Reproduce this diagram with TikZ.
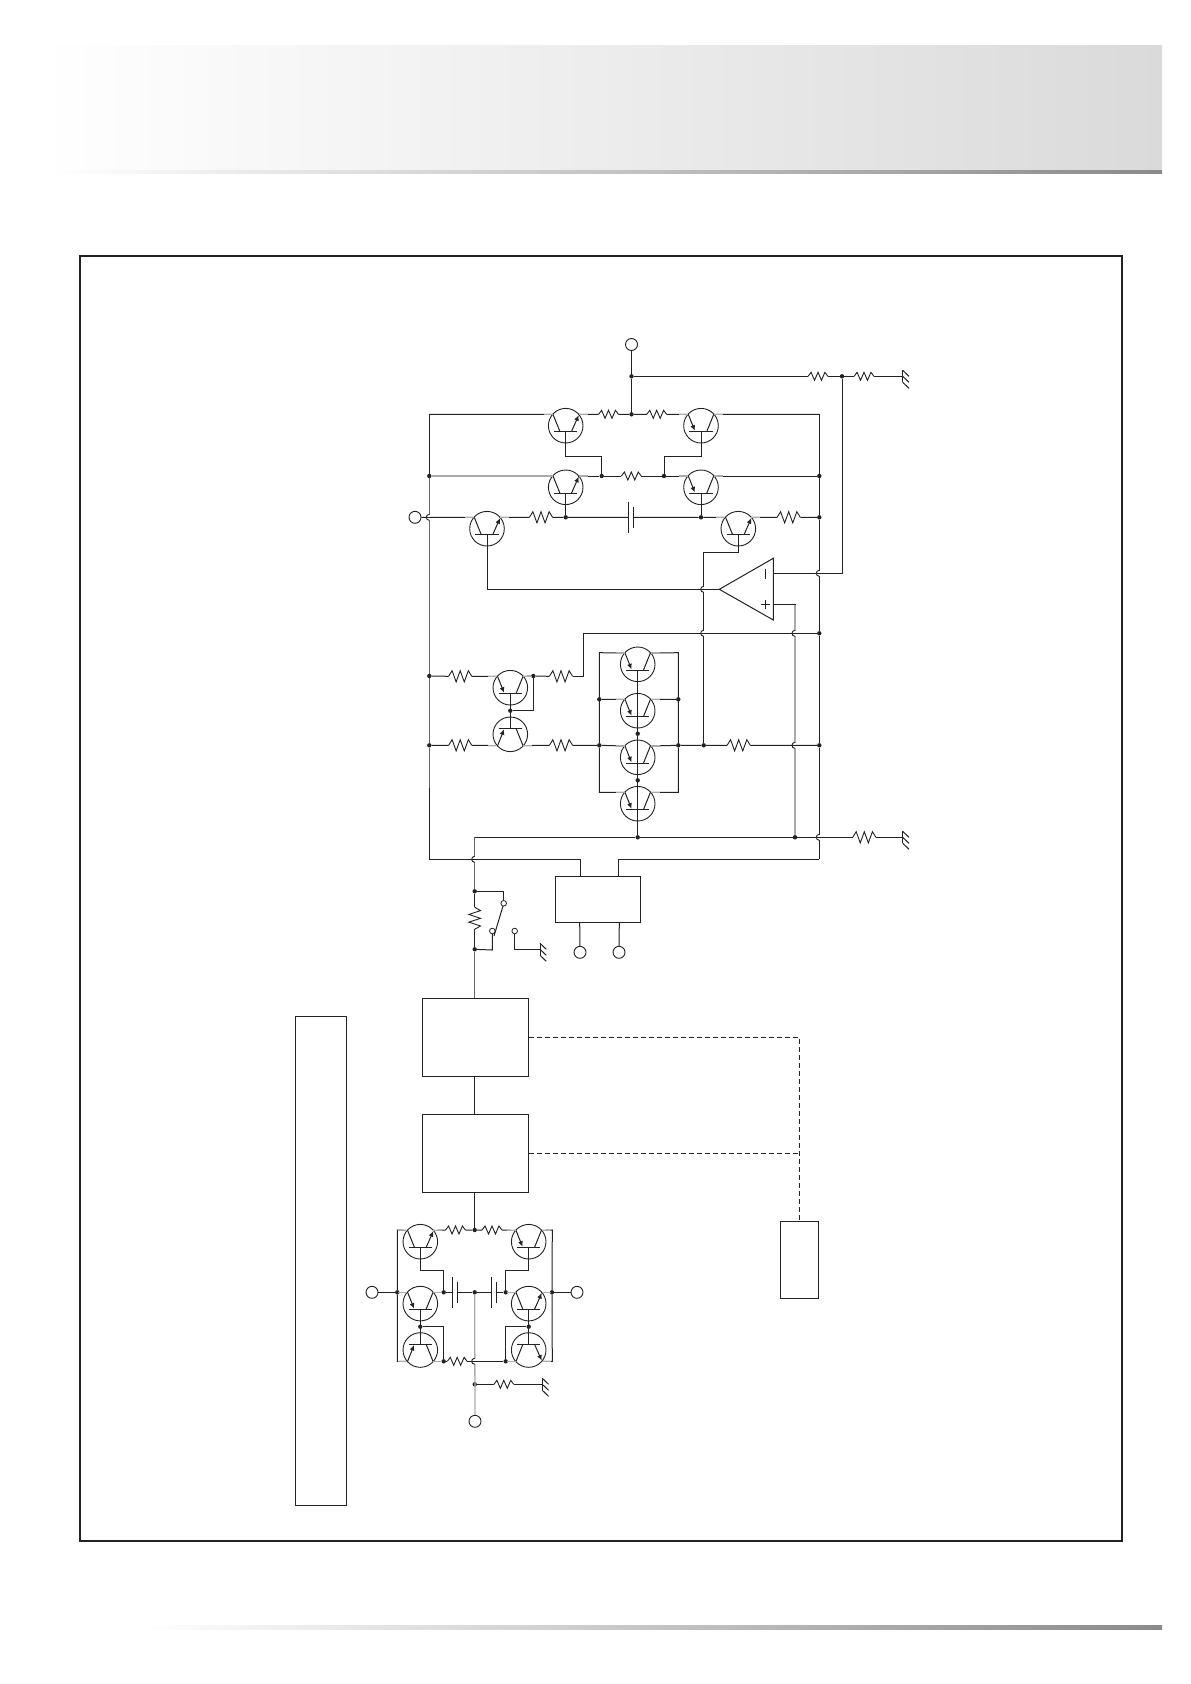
\documentclass[tikz,border=0pt]{standalone}
\usetikzlibrary{arrows.meta}
\pgfdeclarelayer{fg}
\pgfsetlayers{main,fg}
\definecolor{ink}{HTML}{222222}
\definecolor{lgray}{HTML}{ABABAB}
\definecolor{mgray}{HTML}{666666}
\definecolor{hdr}{HTML}{DBDADA}
\definecolor{strip}{HTML}{8A8A8A}
\newcommand\zzH[2]{-- ++({.15*#1},{-#2}) -- ++({.175*#1},{2*#2}) -- ++({.175*#1},{-2*#2}) -- ++({.175*#1},{2*#2}) -- ++({.175*#1},{-2*#2}) -- ++({.15*#1},{#2})}
\newcommand\zzV[2]{-- ++({#2},{.15*#1}) -- ++({-2*#2},{.175*#1}) -- ++({2*#2},{.175*#1}) -- ++({-2*#2},{.175*#1}) -- ++({2*#2},{.175*#1}) -- ++({-#2},{.15*#1})}
\newcommand\trstubs{\begin{pgfonlayer}{fg}\draw[line width=1.1pt,draw=lgray] (-22,-11.3) -- (-13,-11.3) (13,-11.3) -- (22,-11.3);\end{pgfonlayer}}
\tikzset{
  wire/.style={line width=1pt,draw=ink,line join=miter},
  gwire/.style={line width=1.3pt,draw=lgray},
  mwire/.style={line width=1pt,draw=mgray},
  dwire/.style={line width=1pt,draw=ink,dash pattern=on 5pt off 3pt},
  dot/.style={circle,fill=ink,inner sep=0pt,minimum size=4.4pt},
  term/.style={circle,draw=ink,line width=0.9pt,fill=white,inner sep=0pt,minimum size=12pt},
  swt/.style={circle,draw=ink,line width=0.8pt,fill=white,inner sep=0pt,minimum size=5.6pt},
  blockbox/.style={rectangle,draw=ink,line width=1pt,inner sep=0pt},
  trA/.pic={
    \draw[line width=0.9pt,draw=ink] (0,0) circle (17.3);
    \draw[wire] (-11.7,6) -- (11.7,6);
    \draw[wire] (0,6) -- (0,17.3);
    \coordinate (-l) at (-12.7,-11.3);
    \coordinate (-r) at (12.7,-11.3);
    \coordinate (-b) at (0,17.3);
    \coordinate (-m) at (0,6);
    \draw[wire] (-5.7,6) -- (-12.7,-11.3);
    \draw[wire,-{Latex[length=5.5pt,width=5pt]}] (5.7,6) -- (13,-10.5);
    \trstubs
  },
  trB/.pic={
    \draw[line width=0.9pt,draw=ink] (0,0) circle (17.3);
    \draw[wire] (-11.7,6) -- (11.7,6);
    \draw[wire] (0,6) -- (0,17.3);
    \coordinate (-l) at (-12.7,-11.3);
    \coordinate (-r) at (12.7,-11.3);
    \coordinate (-b) at (0,17.3);
    \coordinate (-m) at (0,6);
    \draw[wire,-{Latex[length=5.5pt,width=5pt]}] (-12.7,-11.3) -- (-6.2,5);
    \draw[wire] (5.7,6) -- (12.7,-11.3);
    \trstubs
  },
  resS/.pic={
    \coordinate (-a) at (-9.9,0);
    \coordinate (-b) at (9.9,0);
    \draw[line width=0.9pt,draw=ink] (-9.9,0) \zzH{19.8}{4};
  },
  resL/.pic={
    \coordinate (-a) at (-11.6,0);
    \coordinate (-b) at (11.6,0);
    \draw[line width=0.9pt,draw=ink] (-11.6,0) \zzH{23.2}{5.6};
  },
  resV/.pic={
    \coordinate (-a) at (0,-11);
    \coordinate (-b) at (0,11);
    \draw[line width=0.9pt,draw=ink] (0,-11) \zzV{22}{5.8};
  },
  gnd/.pic={
    \coordinate (-c) at (0,0);
    \draw[wire] (0,-6) -- (0,6);
    \draw[wire] (0,-6) -- (6.3,0) (0,0) -- (6.3,6) (0,6) -- (6.3,12);
  },
  hop/.pic={
    \draw[white,line width=2pt] (0,-2.8) -- (0,2.8);
    \draw[line width=0.9pt,draw=ink] (0,-3) .. controls (-4,-3) and (-4,3) .. (0,3);
    \draw[wire] (-4.5,0) -- (4.5,0);
  },
  cap/.pic={
    \coordinate (-a) at (-2.5,0);
    \coordinate (-b) at (2.5,0);
    \draw[wire] (-2.5,-15.8) -- (-2.5,15.8);
    \draw[wire] (2.5,-10.8) -- (2.5,10.8);
  }
}
\begin{document}
\begin{tikzpicture}[x=1pt,y=-1pt]
\useasboundingbox (0,0) rectangle (1191,1684);
\fill[white] (0,0) rectangle (1191,1684);
% page decoration
\shade[left color=white,right color=hdr,draw=none] (40,45) rectangle (1162,170.5);
\shade[left color=white,right color=strip,draw=none] (50,170) rectangle (1162,173);
\shade[left color=white,right color=strip,draw=none] (144,1625) rectangle (1162,1629);
\draw[line width=2pt,draw=ink] (80,255.7) rectangle (1122.3,1540.7);

% ---------- nodes and junctions ----------
\node[term] (tTop) at (631.5,344.5) {};
\node[term] (tIn) at (415,517.3) {};
\node[dot] (nA) at (631.5,376.3) {};
\node[dot] (nB) at (631.5,414.3) {};
\node[dot] (nC) at (842,376.3) {};
\coordinate (cTL) at (429.3,414.3);
\coordinate (cTR) at (819.3,414.3);
\node[dot] (n2L) at (429.3,476) {};
\node[dot] (n2R) at (819.3,476) {};
\node[dot] (n2a) at (601.7,476) {};
\node[dot] (n2b) at (664,476) {};
\node[dot] (n3a) at (565.7,517.3) {};
\node[dot] (n3b) at (701,517.3) {};
\node[dot] (n3R) at (819.3,517.3) {};
\node[dot] (n4R) at (819.3,633.3) {};
\node[dot] (n5L) at (429.3,676) {};
\node[dot] (n6L) at (429.3,745.3) {};
\node[dot] (n5a) at (533.3,676) {};
\node[dot] (n5b) at (510.3,710.7) {};
\node[dot] (n6a) at (599.3,745.3) {};
\node[dot] (n6b) at (678.3,745.3) {};
\node[dot] (n6c) at (703.7,745.3) {};
\node[dot] (n6R) at (819.3,745.3) {};
\node[dot] (nc1) at (599.3,699.3) {};
\node[dot] (nc2) at (678.3,699.3) {};
\node[dot] (nc3) at (637.7,733.7) {};
\node[dot] (nc4) at (637.7,780.3) {};
\node[dot] (nBt) at (637.7,837.3) {};
\node[dot] (nBr) at (795,837.3) {};
\node[dot] (nS1) at (474.7,891.3) {};
\node[dot] (nS2) at (474.7,949.3) {};

% transistors
\pic (Q1) at (565.7,425.7) {trA};
\pic (Q2) at (701,425.7) {trB};
\pic (Q3) at (565.7,487.3) {trA};
\pic (Q4) at (701,487.3) {trB};
\pic (Q5) at (487,528.7) {trA};
\pic (Q6) at (738.3,528.7) {trA};
\pic (Q7) at (510.3,687.7) {trB};
\pic[yscale=-1] (Q8) at (510.3,734.3) {trB};
\pic (Q9) at (637.7,664.3) {trB};
\pic (Q10) at (637.7,710.7) {trB};
\pic (Q11) at (637.7,757.3) {trB};
\pic (Q12) at (637.7,803.7) {trB};

% resistors, capacitor, grounds
\pic (R1) at (818,376.3) {resS};
\pic (R2) at (864,376.3) {resS};
\pic (R3) at (608.5,414.3) {resS};
\pic (R4) at (656.7,414.3) {resS};
\pic (R5) at (631.3,476) {resS};
\pic (R6) at (541,517.3) {resL};
\pic (R7) at (788.7,517.3) {resL};
\pic (R8) at (460.2,676.3) {resL};
\pic (R9) at (561,676.3) {resL};
\pic (R10) at (460.2,745.3) {resL};
\pic (R11) at (561,745.3) {resL};
\pic (R12) at (738.7,745.3) {resL};
\pic (R13) at (864.3,837.3) {resL};
\pic (R14) at (474.7,918.3) {resV};
\pic (C1) at (631.2,517.3) {cap};
\pic (G1) at (902.7,376.3) {gnd};
\pic (G2) at (902.7,837.3) {gnd};
\pic (G3) at (540,949.3) {gnd};

% op amp
\coordinate (oTip) at (719.3,589.3);
\coordinate (oIn) at (773.3,573.3);
\coordinate (oIp) at (773.3,604.7);
\draw[line width=1pt,draw=ink,line join=miter] (oTip) -- (773.3,558.3) -- (773.3,620) -- cycle;
\draw[wire] (765.3,569) -- (765.3,578.5);
\draw[wire] (761,604.7) -- (769.6,604.7) (765.3,600.4) -- (765.3,609);

% block 1
\node[blockbox,minimum width=85.4pt,minimum height=46pt] (bLogic) at (598,899.3) {};
\node[term] (tA) at (580,952.3) {};
\node[term] (tB) at (619,952.3) {};
\node[swt] (s1) at (503.7,903.3) {};
\node[swt] (s2) at (492.3,931) {};
\node[swt] (s3) at (514.7,931) {};

% ---------- upper wiring ----------
\draw[wire] (tTop) -- (nA);
\draw[wire] (nA) -- (nB);
\draw[wire] (nA) -- (R1-a) (R1-b) -- (nC) (nC) -- (R2-a) (R2-b) -- (G1-c);
\draw[wire] (nC) |- (oIn);
\draw[wire] (cTL) -- (Q1-l) (Q1-r) -- (R3-a) (R3-b) -- (nB) (nB) -- (R4-a) (R4-b) -- (Q2-l) (Q2-r) -- (cTR);
\draw[wire] (cTL) -- (n2L);
\draw[wire] (cTR) -- (n2R) -- (n3R) -- (n4R) -- (n6R);
\draw[wire] (n6R) -- (819.3,859.3);
\draw[gwire] (n2L) -- (Q3-l);
\draw[mwire] (n2L) -- (n5L) -- (n6L) -- (429.3,788);
\draw[wire] (429.3,788) -- (429.3,859.3);
\draw[wire] (Q3-r) -- (n2a) -- (R5-a) (R5-b) -- (n2b) -- (Q4-l) (Q4-r) -- (n2R);
\draw[wire] (Q1-b) |- (601.7,456.3) -- (n2a);
\draw[wire] (Q2-b) |- (664,456.3) -- (n2b);
\draw[wire] (tIn) -- (Q5-l) (Q5-r) -- (R6-a) (R6-b) -- (n3a) -- (C1-a) (C1-b) -- (n3b) -- (Q6-l) (Q6-r) -- (R7-a) (R7-b) -- (n3R);
\draw[wire] (Q3-b) -- (n3a);
\draw[wire] (Q4-b) -- (n3b);
\draw[wire] (Q5-b) |- (oTip);
\draw[wire] (Q6-b) |- (703.7,552.3) -- (n6c);
\draw[wire] (oIp) -| (795,620);
\draw[gwire] (795,604.7) -- (nBr);
\draw[wire] (n5L) -- (R8-a) (R8-b) -- (Q7-l) (Q7-r) -- (n5a) -- (R9-a);
\draw[wire] (R9-b) -- (583.3,676.3) -- (583.3,633.3) -- (n4R);
\draw[wire] (Q7-m) -- (Q8-m);
\draw[wire] (n5b) -- (533.3,710.7) -- (n5a);
\draw[wire] (n6L) -- (R10-a) (R10-b) -- (Q8-l) (Q8-r) -- (R11-a) (R11-b) -- (n6a) -- (Q11-l) (Q11-r) -- (n6b) -- (n6c) -- (R12-a) (R12-b) -- (n6R);
\draw[wire] (Q9-l) -- (599.3,652.7) -- (n6a) -- (599.3,792.3) -- (Q12-l);
\draw[wire] (Q9-r) -- (678.3,652.7) -- (n6b) -- (678.3,792.3) -- (Q12-r);
\draw[wire] (nc1) -- (Q10-l) (Q10-r) -- (nc2);
\draw[wire] (Q9-m) -- (nBt);
\draw[wire] (474.7,837.3) -- (nBt) -- (nBr) -- (R13-a) (R13-b) -- (G2-c);
\draw[mwire] (474.7,837.3) -- (nS1);
\draw[wire] (nS1) -- (R14-a) (R14-b) -- (nS2);
\draw[wire] (nS1) -- (503.7,891.3) -- (s1);
\draw[wire] (503,906) -- (494,936);
\draw[wire] (s2) -- (492.3,950) -- (nS2);
\draw[wire] (s3) -- (514.7,949.3) -- (G3-c);
\draw[wire] (429.3,859.3) -- (580.7,859.3) -- (580.7,876.3);
\draw[wire] (819.3,859.3) -- (618.3,859.3) -- (618.3,876.3);
\draw[wire] (579.7,922.3) -- (tA);
\draw[wire] (619.3,922.3) -- (tB);

% hops
\pic (H1) at (429.3,517.3) {hop};
\pic (H2) at (703.7,589.3) {hop};
\pic (H3) at (819.3,573.3) {hop};
\pic (H4) at (703.7,633.3) {hop};
\pic (H5) at (795,633.3) {hop};
\pic (H6) at (795,745.3) {hop};
\pic (H7) at (819.3,837.3) {hop};
\pic (H8) at (474.7,859.3) {hop};

% ---------- blocks ----------
\node[blockbox,minimum width=106pt,minimum height=78pt] (bOne) at (475.3,1037.3) {};
\node[blockbox,minimum width=106pt,minimum height=78pt] (bTwo) at (475.3,1153.3) {};
\node[blockbox,minimum width=38.3pt,minimum height=77pt] (bCtl) at (799.2,1259.8) {};
\node[blockbox,minimum width=51.5pt,minimum height=489.7pt] (bTall) at (321.1,1260.9) {};
\coordinate (dTurn) at (799.3,1037.3);
\coordinate (dMid) at (799.3,1153.3);
\draw[mwire] (nS2) -- (474.7,998.3);
\draw[wire] (bOne.south -| 474.7,0) -- (bTwo.north -| 474.7,0);
\draw[dwire] (bOne.east) -- (dTurn) -- (dMid) -- (dTurn |- bCtl.north);
\draw[dwire] (bTwo.east) -- (dMid);

% ---------- lower circuit ----------
\node[term] (tL) at (372,1292.3) {};
\node[term] (tR) at (577,1292.3) {};
\node[term] (tBot) at (475,1421.3) {};
\node[dot] (m1) at (474.7,1230) {};
\node[dot] (m2L) at (397.3,1292.3) {};
\node[dot] (m2a) at (443.7,1292.3) {};
\node[dot] (m2c) at (474.7,1292.3) {};
\node[dot] (m2b) at (505.7,1292.3) {};
\node[dot] (m2R) at (552,1292.3) {};
\node[dot] (m3a) at (420.3,1326.7) {};
\node[dot] (m3b) at (528.7,1326.7) {};
\node[dot] (m4a) at (443.7,1361.3) {};
\node[dot] (m4b) at (505.7,1361.3) {};
\node[dot] (m5) at (474.7,1384.3) {};
\pic (P1) at (420.3,1241.7) {trA};
\pic (P2) at (528.7,1241.7) {trB};
\pic (P3) at (420.3,1303.6) {trB};
\pic (P4) at (528.7,1303.6) {trA};
\pic[yscale=-1] (P5) at (420.3,1350) {trB};
\pic[yscale=-1] (P6) at (528.7,1350) {trA};
\pic (S1) at (455.5,1230) {resS};
\pic (S2) at (492,1230) {resS};
\pic (S3) at (457.2,1361.3) {resS};
\pic (S4) at (503.8,1384.3) {resS};
\pic (K1) at (455,1292.3) {cap};
\pic (K2) at (494,1292.3) {cap};
\pic (G4) at (542.3,1384.3) {gnd};
\draw[wire] (m1 |- bTwo.south) -- (m1);
\draw[wire] (m1) -- (S1-b) (S1-a) -- (P1-r);
\draw[wire] (m1) -- (S2-a) (S2-b) -- (P2-l);
\draw[wire] (P1-l) -- (397.3,1230) -- (m2L) -- (397.3,1361.3) -- (P5-l);
\draw[wire] (P2-r) -- (552.3,1230) -- (m2R) -- (552.3,1361.3) -- (P6-r);
\draw[wire] (tL) -- (m2L) -- (P3-l) (P3-r) -- (m2a) -- (K1-a) (K1-b) -- (m2c) -- (K2-a) (K2-b) -- (m2b) -- (P4-l) (P4-r) -- (m2R) -- (tR);
\draw[wire] (P1-b) |- (443.7,1270) -- (m2a);
\draw[wire] (P2-b) |- (505.7,1270) -- (m2b);
\draw[wire] (P3-m) -- (P5-m);
\draw[wire] (P4-m) -- (P6-m);
\draw[wire] (m3a) -- (443.7,1326.7) -- (m4a);
\draw[wire] (m3b) -- (505.7,1326.7) -- (m4b);
\draw[wire] (P5-r) -- (m4a) -- (S3-a) (S3-b) -- (m4b) -- (P6-l);
\draw[gwire] (m2c) -- (tBot);
\draw[wire] (m5) -- (S4-a) (S4-b) -- (G4-c);
\pic (H9) at (474.7,1361.3) {hop};
\end{tikzpicture}
\end{document}
